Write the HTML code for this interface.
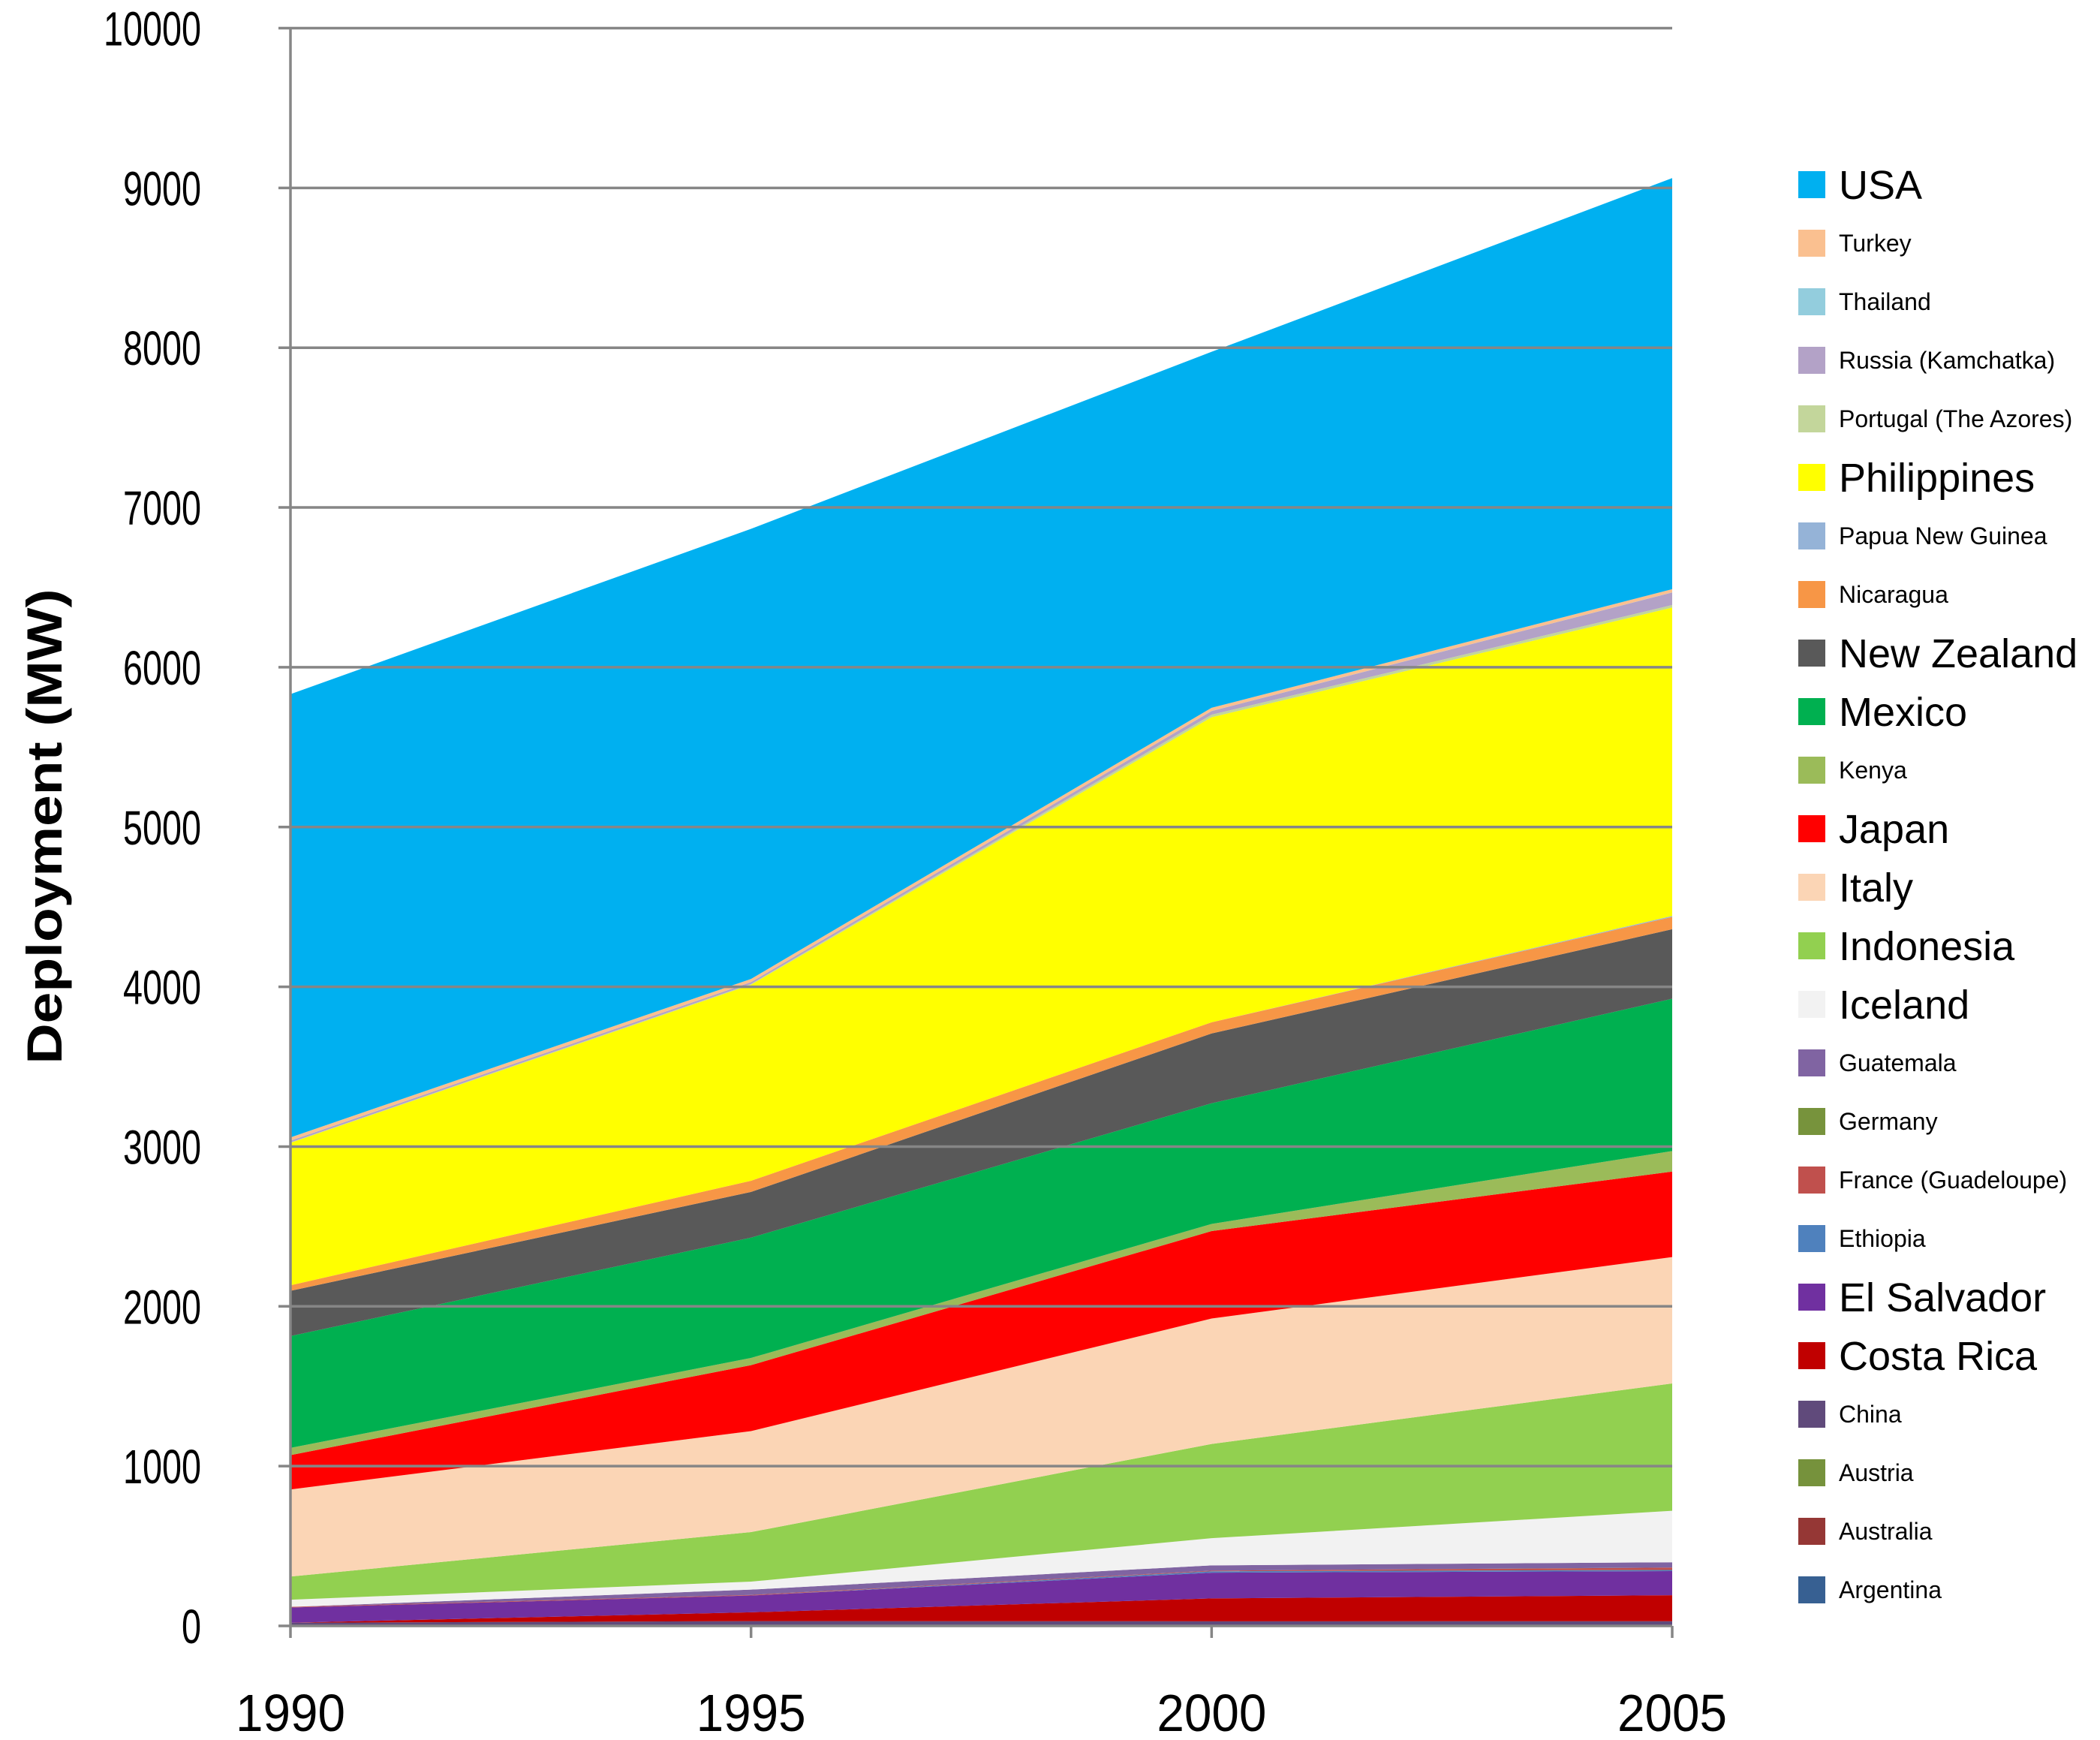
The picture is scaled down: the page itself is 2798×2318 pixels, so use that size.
<!DOCTYPE html>
<html><head><meta charset="utf-8"><style>
html,body{margin:0;padding:0;background:#fff;}
svg{display:block;font-family:"Liberation Sans","DejaVu Sans",sans-serif;}
</style></head><body>
<svg id="chart" width="2798" height="2318" viewBox="0 0 2798 2318" xmlns="http://www.w3.org/2000/svg">
<g id="areas"></g>
<g id="grid"></g>
<g id="axes"></g>
<g id="legend"></g>
<text transform="translate(82,1101) rotate(-90)" text-anchor="middle" font-size="66" font-weight="bold" fill="#000" textLength="633" lengthAdjust="spacingAndGlyphs">Deployment (MW)</text>
</svg>
<script>
const years = [1990, 1995, 2000, 2005];
const yTicks = [0,1000,2000,3000,4000,5000,6000,7000,8000,9000,10000];
const countries = ["Argentina","Australia","Austria","China","Costa Rica","El Salvador","Ethiopia","France (Guadeloupe)","Germany","Guatemala","Iceland","Indonesia","Italy","Japan","Kenya","Mexico","New Zealand","Nicaragua","Papua New Guinea","Philippines","Portugal (The Azores)","Russia (Kamchatka)","Thailand","Turkey","USA"];
const colors = ["#376092","#953735","#76923C","#604A7B","#C00000","#7030A0","#4F81BD","#C0504D","#77933C","#8064A2","#F2F2F2","#92D050","#FBD5B5","#FF0000","#9BBB59","#00B050","#595959","#F79646","#95B3D7","#FFFF00","#C3D69B","#B3A2C7","#93CDDD","#FAC090","#00B0F0"];
const bigLegend = ["USA","Philippines","New Zealand","Mexico","Japan","Italy","Indonesia","Iceland","El Salvador","Costa Rica"];
const vArgentina=[1,1,0,0];
const vAustralia=[0,0,0,0.2];
const vAustria=[0,0,0,1];
const vChina=[19,29,29,28];
const vCostaRica=[0,55,143,163];
const vElSalvador=[95,105,161,151];
const vEthiopia=[0,0,9,7];
const vFrance=[4,4,4,15];
const vGermany=[0,0,0,0.2];
const vGuatemala=[0,33,33,33];
const vIceland=[45,50,170,322];
const vIndonesia=[145,310,590,797];
const vItaly=[545,632,785,791];
const vJapan=[215,413,547,535];
const vKenya=[45,45,45,129];
const vMexico=[700,753,755,953];
const vNewZealand=[283,286,437,435];
const vNicaragua=[35,70,70,77];
const vPNG=[0,0,0,6];
const vPhilippines=[891,1227,1909,1930];
const vPortugal=[3,5,16,16];
const vRussia=[11,11,23,79];
const vThailand=[0.3,0.3,0.3,0.3];
const vTurkey=[20,20,20,20];
const vUSA=[2774,2817,2228,2573];
const series=[vArgentina,vAustralia,vAustria,vChina,vCostaRica,vElSalvador,vEthiopia,vFrance,vGermany,vGuatemala,vIceland,vIndonesia,vItaly,vJapan,vKenya,vMexico,vNewZealand,vNicaragua,vPNG,vPhilippines,vPortugal,vRussia,vThailand,vTurkey,vUSA];

const NS="http://www.w3.org/2000/svg";
const X0=387,X1=2228,Y0=2166,Y1=37.5;
const xS=y=>X0+(y-years[0])/(years[years.length-1]-years[0])*(X1-X0);
const yS=v=>Y0-v/10000*(Y0-Y1);
function mk(tag,attrs,parent){const e=document.createElementNS(NS,tag);for(const k in attrs)e.setAttribute(k,attrs[k]);parent.appendChild(e);return e;}

const areas=document.getElementById('areas');
let base=years.map(()=>0);
series.forEach((s,i)=>{
  const top=base.map((b,j)=>b+s[j]);
  let pts=years.map((y,j)=>xS(y)+","+yS(top[j]));
  for(let j=years.length-1;j>=0;j--)pts.push(xS(years[j])+","+yS(base[j]));
  const p=mk('polygon',{points:pts.join(" "),fill:colors[i]},areas);
  
  
  base=top;
});

const grid=document.getElementById('grid');
yTicks.forEach(t=>{
  if(t===0)return;
  const l=mk('line',{x1:371,x2:X1,y1:yS(t),y2:yS(t),stroke:'#868686','stroke-width':3.5},grid);
  
  
});
const axes=document.getElementById('axes');
const ya=mk('line',{x1:X0,x2:X0,y1:Y1,y2:Y0,stroke:'#868686','stroke-width':3.5},axes);


const xa=mk('line',{x1:371,x2:X1,y1:Y0,y2:Y0,stroke:'#868686','stroke-width':3.5},axes);


yTicks.forEach(t=>{
  const n=String(t).length;
  const tx=mk('text',{x:268,y:yS(t)+23,'text-anchor':'end','font-size':64,fill:'#000',textLength:n*26,lengthAdjust:'spacingAndGlyphs'},axes);
  tx.textContent=t;
  
  
});
years.forEach(y=>{
  const tk=mk('line',{x1:xS(y),x2:xS(y),y1:Y0,y2:Y0+16,stroke:'#868686','stroke-width':3.5},axes);
  
  
  const tx=mk('text',{x:xS(y),y:2306,'text-anchor':'middle','font-size':70,fill:'#000',textLength:146,lengthAdjust:'spacingAndGlyphs'},axes);
  tx.textContent=y;
  
  
});

const legend=document.getElementById('legend');
const order=countries.map((c,i)=>i).reverse();
order.forEach((ci,r)=>{
  const cy=246+r*78;
  const g=mk('g',{},legend);
  
  
  mk('rect',{x:2396,y:cy-18,width:36,height:36,fill:colors[ci]},g);
  const big=bigLegend.includes(countries[ci]);
  const tx=mk('text',{x:2450,y:cy+(big?19:11),'font-size':big?54:32,fill:'#000'},g);
  tx.textContent=countries[ci];
});
</script>
</body></html>
